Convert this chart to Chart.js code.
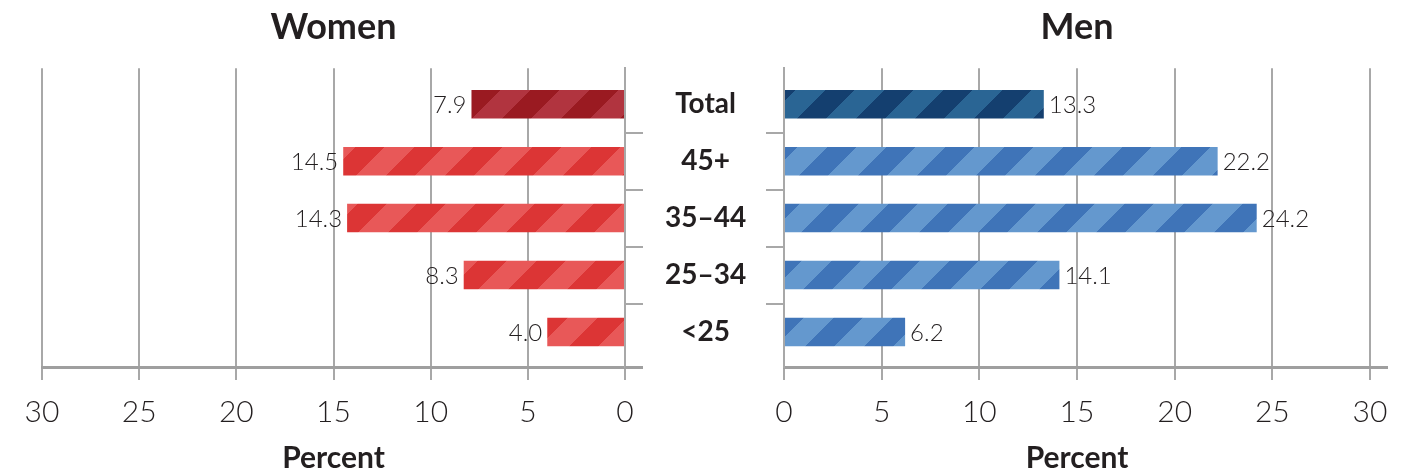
<!DOCTYPE html>
<html>
<head>
<meta charset="utf-8">
<script src="https://cdn.jsdelivr.net/npm/chart.js@4"></script>
<style>
    html, body { margin: 0; padding: 0; background: #fff; }
    #wrap { position: relative; width: 1417px; height: 473px; }
    #wrap canvas { position: absolute; left: 0; top: 0; }
</style>
</head>
<body>
<div id="wrap">
    <canvas id="women" width="1417" height="473"></canvas>
    <canvas id="men" width="1417" height="473"></canvas>
</div>
<script>
var ageGroups = ["Total", "45+", "35–44", "25–34", "<25"]
var womenValues = [7.9, 14.5, 14.3, 8.3, 4.0]
var menValues = [13.3, 22.2, 24.2, 14.1, 6.2]
var percentTicks = [0, 5, 10, 15, 20, 25, 30]

var textColor = "#231f20"
var gridColor = "#a8a8a8"
var axisColor = "#9f9f9f"
var family = "Lato, 'DejaVu Sans', sans-serif"

Chart.defaults.font.family = family

// diagonal two-tone stripes like the original
function stripes(dark, light) {
    var size = 59
    var c = document.createElement("canvas")
    c.width = size
    c.height = size
    var g = c.getContext("2d")
    g.fillStyle = dark
    g.fillRect(0, 0, size, size)
    g.fillStyle = light
    for (var y = 0; y < size; y++) {
        for (var x = 0; x < size; x++) {
            if ((x + y) % size < size / 2) g.fillRect(x, y, 1, 1)
        }
    }
    return g.createPattern(c, "repeat")
}

var womenFill = [stripes("#9a1a21", "#b1343f")]
var menFill = [stripes("#143f6f", "#2a6594")]
for (var k = 1; k < ageGroups.length; k++) {
    womenFill.push(stripes("#dc3535", "#e85858"))
    menFill.push(stripes("#3f74b8", "#6498ce"))
}

var barValues = {
    id: "barValues",
    afterDatasetsDraw: function (chart, args, opts) {
        var ctx = chart.ctx
        var data = chart.data.datasets[0].data
        ctx.save()
        ctx.font = "300 24px " + family
        ctx.fillStyle = textColor
        ctx.textBaseline = "middle"
        ctx.textAlign = opts.side === "left" ? "right" : "left"
        chart.getDatasetMeta(0).data.forEach(function (bar, i) {
            var x = opts.side === "left" ? bar.x - 5 : bar.x + 5
            ctx.fillText(data[i].x.toFixed(1), x, bar.y + 1)
        })
        ctx.restore()
    }
}

// the bottom axis line runs a bit past the plot on the right
var axisTail = {
    id: "axisTail",
    afterDraw: function (chart) {
        var a = chart.chartArea
        var ctx = chart.ctx
        ctx.save()
        ctx.strokeStyle = axisColor
        ctx.lineWidth = 3
        ctx.beginPath()
        ctx.moveTo(a.right, Math.round(a.bottom) + 0.5)
        ctx.lineTo(a.right + 18, Math.round(a.bottom) + 0.5)
        ctx.stroke()
        ctx.restore()
    }
}

function makeChart(id, title, values, fills, left) {
    var ctx = document.getElementById(id).getContext("2d")
    return new Chart(ctx, {
        type: "bar",
        data: {
            datasets: [{
                data: values.map(function (v, i) { return { x: v, y: i } }),
                backgroundColor: fills,
                borderWidth: 0,
                categoryPercentage: 1,
                barPercentage: 0.5
            }]
        },
        plugins: [barValues, axisTail],
        options: {
            indexAxis: "y",
            responsive: false,
            animation: false,
            layout: {
                padding: left ? { left: 42, right: 632, top: 0, bottom: 0 } : { left: 766, right: 47, top: 0, bottom: 0 }
            },
            scales: {
                x: {
                    type: "linear",
                    position: "bottom",
                    reverse: left,
                    min: 0,
                    max: 30,
                    bounds: "data",
                    afterBuildTicks: function (s) {
                        s.ticks = percentTicks.map(function (v) { return { value: v } })
                    },
                    afterFit: function (s) { s.height = 106 },
                    grid: { color: gridColor, lineWidth: 2, tickLength: 13 },
                    border: { color: axisColor, width: 3 },
                    ticks: { color: textColor, padding: 14, font: { size: 30, weight: "300" } },
                    title: {
                        display: true,
                        text: "Percent",
                        color: textColor,
                        padding: { top: 0, bottom: 0 },
                        font: { size: 30, weight: "bold", lineHeight: 1 }
                    }
                },
                y: {
                    type: "linear",
                    position: left ? "right" : "left",
                    reverse: true,
                    offset: false,
                    min: -0.632,
                    max: 4.614,
                    bounds: "data",
                    afterBuildTicks: function (s) {
                        s.ticks = ageGroups.map(function (g, i) { return { value: i } })
                    },
                    afterFit: function (s) { s.width = left ? 160 : 18 },
                    grid: {
                        drawOnChartArea: false,
                        offset: true,
                        tickLength: 18,
                        lineWidth: 2,
                        color: function (c) {
                            return c.index >= 1 && c.index <= 4 ? gridColor : "rgba(0,0,0,0)"
                        }
                    },
                    border: { color: gridColor, width: 2 },
                    ticks: {
                        display: left,
                        crossAlign: "center",
                        padding: 22,
                        color: textColor,
                        font: { size: 28, weight: "bold" },
                        callback: function (v, i) { return ageGroups[i] }
                    }
                }
            },
            plugins: {
                legend: { display: false },
                tooltip: { enabled: false },
                title: {
                    display: true,
                    text: title,
                    fullSize: false,
                    color: textColor,
                    font: { size: 36, weight: "bold", lineHeight: 1.2 },
                    padding: { top: 6, bottom: 19 }
                },
                barValues: { side: left ? "left" : "right" }
            }
        }
    })
}

var womenChart = makeChart("women", "Women", womenValues, womenFill, true)
var menChart = makeChart("men", "Men", menValues, menFill, false)
</script>
</body>
</html>
